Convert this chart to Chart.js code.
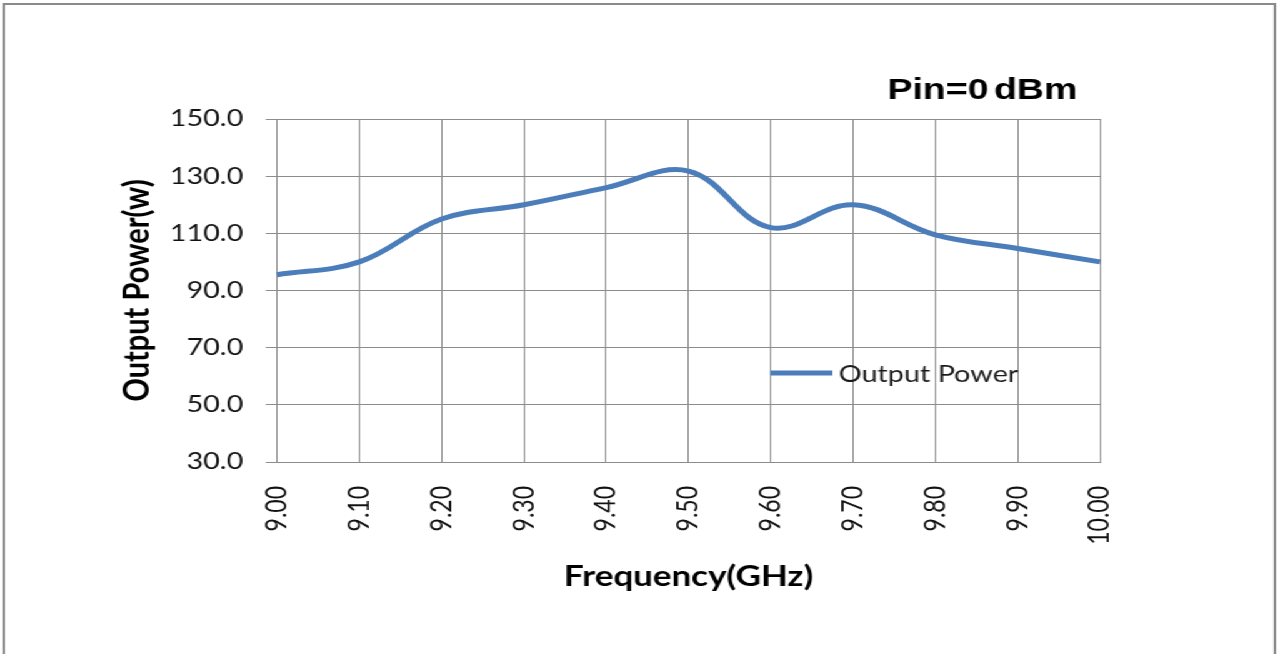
<!DOCTYPE html>
<html>
<head>
<meta charset="utf-8">
<title>Output Power vs Frequency</title>
<script src="https://cdn.jsdelivr.net/npm/chart.js"></script>
<style>
  html, body { margin: 0; padding: 0; background: #fff; overflow: hidden; }
  /* the source picture is stretched sideways, so the whole page is drawn narrow and scaled */
  #wrap { position: absolute; left: 0; top: 0; width: 1022px; height: 654px; transform: scaleX(1.25); transform-origin: 0 0; }
  #frame { position: absolute; left: 2px; top: 3px; width: 1015px; height: 700px; border: 2px solid #8a8a8a; }
  #chart { position: absolute; left: 0; top: 0; }
</style>
</head>
<body>
<div id="wrap">
  <div id="frame"></div>
  <canvas id="chart" width="1022" height="654"></canvas>
</div>
<script>
// data
const freqLabels = ['9.00', '9.10', '9.20', '9.30', '9.40', '9.50', '9.60', '9.70', '9.80', '9.90', '10.00'];
const outputPower = [95.5, 100, 115, 120, 126, 131.8, 112, 120, 109.5, 104.7, 100];
const seriesName = 'Output Power';
const noteText = 'Pin=0 dBm';

const lineColor = '#4a7dba';
const gridColor = '#8c8c8c';

// legend inside the plot + the Pin note, drawn by hand
const extras = {
  id: 'extras',
  afterDraw(chart) {
    const ctx = chart.ctx;
    const ds = chart.data.datasets[0];
    ctx.save();
    ctx.strokeStyle = ds.borderColor;
    ctx.lineWidth = 5;
    ctx.beginPath();
    ctx.moveTo(616, 373);
    ctx.lineTo(666, 373);
    ctx.stroke();
    ctx.fillStyle = '#1a1a1a';
    ctx.font = '23px Lato';
    ctx.textBaseline = 'alphabetic';
    ctx.fillText(ds.label, 671, 382);

    ctx.fillStyle = '#000';
    ctx.font = 'bold 30px "Liberation Sans"';
    ctx.wordSpacing = '-4px';
    ctx.fillText(noteText, 710, 99);
    ctx.restore();
  }
};

new Chart(document.getElementById('chart'), {
  type: 'line',
  data: {
    labels: freqLabels,
    datasets: [{
      label: seriesName,
      data: outputPower,
      borderColor: lineColor,
      backgroundColor: lineColor,
      borderWidth: 5,
      pointRadius: 0,
      tension: 0.38,
      fill: false
    }]
  },
  options: {
    responsive: false,
    animation: false,
    layout: { padding: { left: 0, top: 119, right: 142, bottom: 0 } },
    plugins: {
      legend: { display: false },
      tooltip: { enabled: false }
    },
    scales: {
      x: {
        type: 'category',
        offset: false,
        afterFit(scale) { scale.height = 192; },
        grid: { color: gridColor, drawTicks: false },
        border: { color: gridColor },
        ticks: {
          color: '#111',
          font: { family: 'Lato', size: 23 },
          minRotation: 90,
          maxRotation: 90,
          padding: 24,
          autoSkip: false
        },
        title: {
          display: true,
          text: 'Frequency(GHz)',
          color: '#000',
          font: { family: 'Lato', size: 28, weight: 'bold' },
          padding: { top: 0, bottom: 60 }
        }
      },
      y: {
        min: 30,
        max: 150,
        afterFit(scale) { scale.width = 221.6; },
        grid: { color: gridColor, tickLength: 9 },
        border: { color: gridColor },
        ticks: {
          stepSize: 20,
          color: '#111',
          font: { family: 'Lato', size: 23 },
          padding: 18,
          callback: v => v.toFixed(1)
        },
        title: {
          display: true,
          text: 'Output Power(w)',
          color: '#000',
          font: { family: 'Lato', size: 29, weight: 'bold' },
          padding: { top: 92.5, bottom: 0 }
        }
      }
    }
  },
  plugins: [extras]
});
</script>
</body>
</html>
